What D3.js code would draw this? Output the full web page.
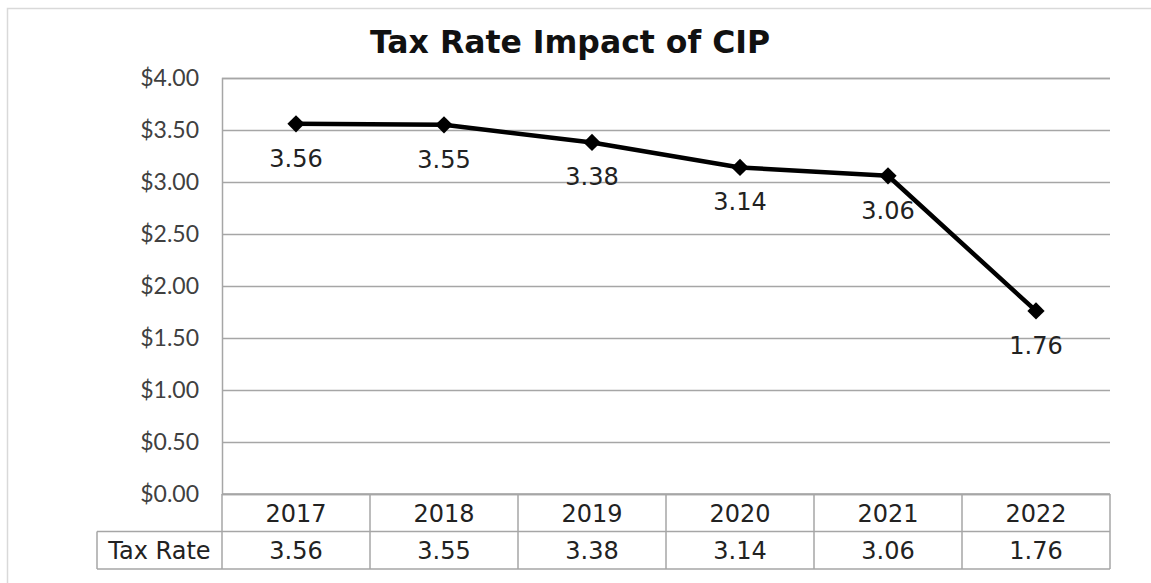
<!DOCTYPE html>
<html>
<head>
<meta charset="utf-8">
<script src="https://cdn.jsdelivr.net/npm/d3@7/dist/d3.min.js"></script>
<style>
  html, body { margin: 0; padding: 0; background: #fff; }
  svg { display: block; }
</style>
</head>
<body>
<div id="chart"></div>
<script>
// Tax rate per year
const years = ["2017", "2018", "2019", "2020", "2021", "2022"];
const taxRate = [3.56, 3.55, 3.38, 3.14, 3.06, 1.76];
const seriesName = "Tax Rate";
const yTicks = [0, 0.5, 1, 1.5, 2, 2.5, 3, 3.5, 4];
const title = "Tax Rate Impact of CIP";

const W = 1151, H = 583;
const plot = { left: 222, right: 1110, top: 78, bottom: 494 };
const rowH = 37.5;

const svg = d3.select("#chart").append("svg")
  .attr("width", W).attr("height", H);

// outer chart frame
svg.append("rect")
  .attr("x", 7.5).attr("y", 8.5)
  .attr("width", W + 20).attr("height", H + 20)
  .attr("fill", "none").attr("stroke", "#d9d9d9").attr("stroke-width", 1.5);

const x = d3.scaleBand().domain(years).range([plot.left, plot.right]);
const y = d3.scaleLinear().domain([0, 4]).range([plot.bottom, plot.top]);

// title
svg.append("text")
  .attr("x", 570).attr("y", 53)
  .attr("text-anchor", "middle")
  .attr("font-family", "'DejaVu Sans', Verdana, sans-serif")
  .attr("font-weight", "bold")
  .attr("font-size", 31.5)
  .attr("fill", "#111")
  .text(title);

// horizontal gridlines
const yAxis = d3.axisLeft(y)
  .tickValues(yTicks)
  .tickSize(-(plot.right - plot.left))
  .tickPadding(23)
  .tickFormat(d => "$" + d3.format(".2f")(d));

const gy = svg.append("g")
  .attr("transform", `translate(${plot.left},0)`)
  .call(yAxis);
gy.select(".domain").attr("stroke", "#a6a6a6").attr("stroke-width", 1.5);
gy.selectAll(".tick line").attr("stroke", "#a6a6a6").attr("stroke-width", 1.5);
gy.selectAll(".tick text")
  .attr("font-family", "Lato, 'Liberation Sans', sans-serif")
  .attr("font-size", 23)
  .attr("fill", "#404040");

// data table under the plot
const table = svg.append("g");
const tStroke = "#a6a6a6";
const yr0 = plot.bottom, yr1 = plot.bottom + rowH, yr2 = plot.bottom + 2 * rowH;
const headerLeft = 97;

// horizontal rules of the table
table.append("line")
  .attr("x1", plot.left).attr("x2", plot.right)
  .attr("y1", yr0).attr("y2", yr0);
table.append("line")
  .attr("x1", headerLeft).attr("x2", plot.right)
  .attr("y1", yr1).attr("y2", yr1);
table.append("line")
  .attr("x1", headerLeft).attr("x2", plot.right)
  .attr("y1", yr2).attr("y2", yr2);
// vertical rules
table.append("line")
  .attr("x1", headerLeft).attr("x2", headerLeft)
  .attr("y1", yr1).attr("y2", yr2);
table.append("line")
  .attr("x1", plot.left).attr("x2", plot.left)
  .attr("y1", yr0).attr("y2", yr2);
table.selectAll("line.col")
  .data(years)
  .join("line")
  .attr("class", "col")
  .attr("x1", d => x(d) + x.bandwidth())
  .attr("x2", d => x(d) + x.bandwidth())
  .attr("y1", yr0).attr("y2", yr2);
table.selectAll("line")
  .attr("stroke", tStroke).attr("stroke-width", 1.5);

const cellFont = "'DejaVu Sans', Verdana, sans-serif";
table.selectAll("text.year")
  .data(years)
  .join("text")
  .attr("class", "year")
  .attr("x", d => x(d) + x.bandwidth() / 2)
  .attr("y", yr0 + 28)
  .attr("text-anchor", "middle")
  .attr("font-family", cellFont)
  .attr("font-size", 24)
  .attr("fill", "#222")
  .text(d => d);

table.selectAll("text.val")
  .data(taxRate)
  .join("text")
  .attr("class", "val")
  .attr("x", (d, i) => x(years[i]) + x.bandwidth() / 2)
  .attr("y", yr1 + 27)
  .attr("text-anchor", "middle")
  .attr("font-family", cellFont)
  .attr("font-size", 24)
  .attr("fill", "#222")
  .text(d => d3.format(".2f")(d));

table.append("text")
  .attr("x", (headerLeft + plot.left) / 2)
  .attr("y", yr1 + 27)
  .attr("text-anchor", "middle")
  .attr("font-family", cellFont)
  .attr("font-size", 24)
  .attr("fill", "#222")
  .text(seriesName);

// line series
const pts = taxRate.map((v, i) => ({ year: years[i], value: v }));
const cx = d => x(d.year) + x.bandwidth() / 2;

svg.append("path")
  .datum(pts)
  .attr("fill", "none")
  .attr("stroke", "#000")
  .attr("stroke-width", 4.5)
  .attr("stroke-linejoin", "round")
  .attr("d", d3.line().x(cx).y(d => y(d.value)));

svg.selectAll("path.marker")
  .data(pts)
  .join("path")
  .attr("class", "marker")
  .attr("transform", d => `translate(${cx(d)},${y(d.value)})`)
  .attr("d", d3.symbol(d3.symbolDiamond2, 190)())
  .attr("fill", "#000");

// value labels below each marker
svg.selectAll("text.label")
  .data(pts)
  .join("text")
  .attr("class", "label")
  .attr("x", cx)
  .attr("y", d => y(d.value) + 43)
  .attr("text-anchor", "middle")
  .attr("font-family", cellFont)
  .attr("font-size", 24)
  .attr("fill", "#222")
  .text(d => d3.format(".2f")(d.value));
</script>
</body>
</html>
